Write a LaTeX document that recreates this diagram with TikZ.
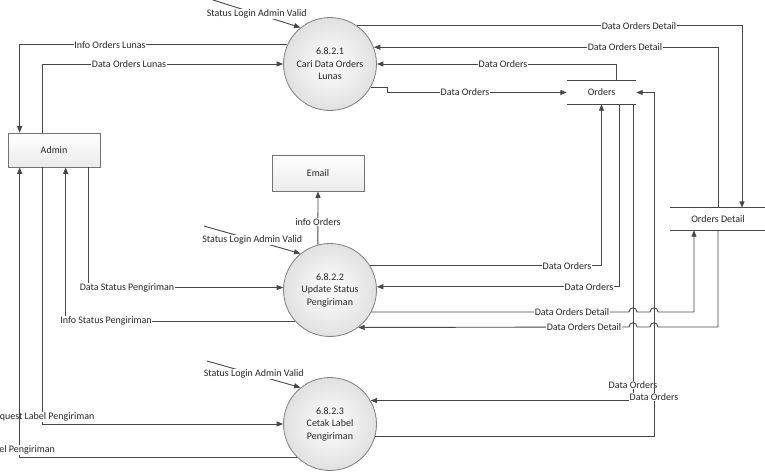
\documentclass[tikz,border=0pt]{standalone}
\usepackage{fontspec}
\setmainfont{Carlito}
\usetikzlibrary{arrows.meta,shadows}
\begin{document}
\begin{tikzpicture}[x=1pt,y=-1pt,
  font=\fontsize{10}{12.5}\selectfont,
  flow/.style={draw=black!72, line width=0.9pt, -{Triangle[length=6.5pt,width=5pt]}},
  plain/.style={draw=black!72, line width=0.9pt},
  lbl/.style={fill=white, inner sep=0.6pt, text=black!85},
  proc/.style={circle, draw=black!50, line width=0.8pt, minimum size=93pt, inner sep=0pt, align=center, inner color=white, outer color=black!12, text=black!85},
  ent/.style={rectangle, draw=black!55, line width=0.7pt, minimum width=92pt, top color=white, bottom color=black!8, text=black!85, drop shadow={shadow xshift=1.2pt, shadow yshift=-1.2pt, opacity=0.25}},
  store/.style={inner sep=0pt, text=black!85},
]
\useasboundingbox (0,0) rectangle (765,472);

% nodes
\node[proc] (c1) at (330,64) {6.8.2.1\\Cari Data Orders\\Lunas};
\node[proc] (c2) at (330,290) {6.8.2.2\\Update Status\\Pengiriman};
\node[proc] (c3) at (330,424) {6.8.2.3\\Cetak Label\\Pengiriman};
\node[ent, minimum height=34pt] (admin) at (54,150) {Admin};
\node[ent, minimum height=36pt] (email) at (318,173) {Email};
\node[store, minimum width=69pt, minimum height=23pt] (orders) at (601.5,92.5) {Orders};
\draw[plain] (orders.north west) -- (orders.north east) (orders.south west) -- (orders.south east);
\node[store, minimum width=96pt, minimum height=22pt] (od) at (718,219) {Orders Detail};
\draw[plain] (od.north west) -- (od.north east) (od.south west) -- (od.south east);

% status login
\coordinate (s1) at (213,0);
\coordinate (s2) at (204,226);
\coordinate (s3) at (207,361);
\draw[flow] (s1) -- (c1.129) node[lbl, pos=0.5] (ls1) {Status Login Admin Valid};
\draw[flow] (s2) -- (c2.129) node[lbl, pos=0.5] (ls2) {Status Login Admin Valid};
\draw[flow] (s3) -- (c3.129) node[lbl, pos=0.5] (ls3) {Status Login Admin Valid};

% process 1
\draw[flow] (c1.156) -| ([xshift=12pt]admin.north west);
\node[lbl] (l1) at (110,45) {Info Orders Lunas};
\draw[flow] ([xshift=35pt]admin.north west) |- (c1.west);
\node[lbl] (l2) at (129,64) {Data Orders Lunas};
\draw[flow] (c1.55) -| ([xshift=24pt]od.north);
\node[lbl] (l3) at (639,26) {Data Orders Detail};
\draw[flow] (od.north) |- (c1.21);
\node[lbl] (l4) at (625,47) {Data Orders Detail};
\draw[flow] ([xshift=14.5pt]orders.north) |- (c1.east);
\node[lbl] (l5) at (503,64) {Data Orders};
\draw[flow] (c1.-30) -| (387,92.5) -- (orders.west);
\node[lbl] (l6) at (465,92.5) {Data Orders};

% process 2
\draw[flow] (c2.31) -| (orders.south);
\node[lbl] (l7) at (567,266) {Data Orders};
\draw[flow] ([xshift=17.5pt]orders.south) |- (c2.4);
\node[lbl] (l8) at (589,287) {Data Orders};

% process 3 with orders
\draw[flow] ([xshift=31.5pt]orders.south) |- (c3.30);
\node[lbl] (l11) at (633,385) {Data Orders};
\draw[flow] (c3.-16) -| (654,92.5) -- (orders.east);
\node[lbl] (l12) at (654,397) {Data Orders};

% process 2 with orders detail (jumps)
\draw[flow] (c2.-28) -- (629,312) .. controls (629,306.5) and (637,306.5) .. (637,312)
  -- (650,312) .. controls (650,306.5) and (658,306.5) .. (658,312) -| ([xshift=-24pt]od.south);
\node[lbl] (l9) at (572,312) {Data Orders Detail};
\draw[flow] (od.south) |- (658,327) .. controls (658,321.5) and (650,321.5) .. (650,327)
  -- (637,327) .. controls (637,321.5) and (629,321.5) .. (629,327) -- (c2.-53);
\node[lbl] (l10) at (584,327) {Data Orders Detail};

% admin <-> process 2
\draw[flow] ([xshift=81pt]admin.south west) |- (c2.177);
\node[lbl] (l13) at (127,288) {Data Status Pengiriman};
\draw[flow] (c2.222) -| ([xshift=58pt]admin.south west);
\node[lbl] (l14) at (106,321) {Info Status Pengiriman};

% admin <-> process 3
\draw[flow] ([xshift=35pt]admin.south west) |- (c3.west);
\node[lbl] (l15) at (42,417) {Request Label Pengiriman};
\draw[flow] (c3.225) -| ([xshift=12pt]admin.south west);
\node[lbl] (l16) at (20,450) {Label Pengiriman};

% email
\draw[flow] (c2.105) -- (email.south);
\node[lbl] (l17) at (318,222) {info Orders};
\end{tikzpicture}
\end{document}
